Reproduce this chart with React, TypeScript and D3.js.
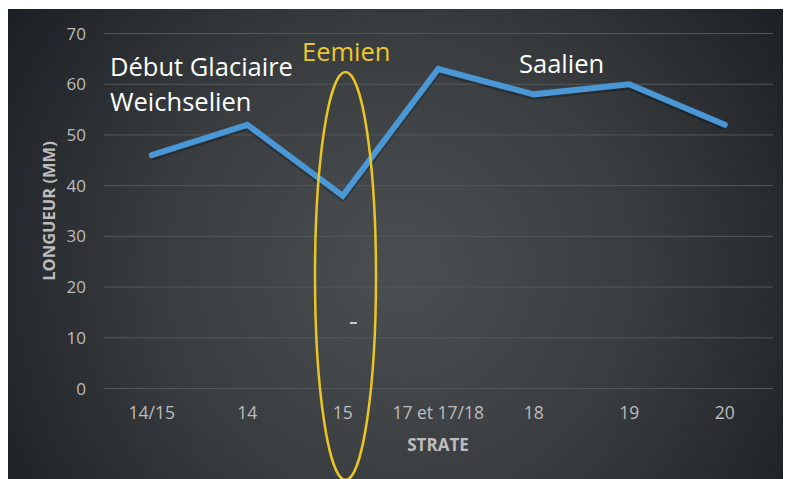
import React, { useEffect, useRef } from 'react';
import * as d3 from 'd3';

const strates = ['14/15', '14', '15', '17 et 17/18', '18', '19', '20'];
const longueur = [46, 52, 38, 63, 58, 60, 52];
const yTicks = [0, 10, 20, 30, 40, 50, 60, 70];

const App: React.FC = () => {
  const ref = useRef<SVGSVGElement | null>(null);

  useEffect(() => {
    document.body.style.margin = '0';
    if (!ref.current) return;
    const svg = d3.select(ref.current);
    svg.selectAll('*').remove();

    const W = 786;
    const H = 479;
    const font = '"Open Sans", "Segoe UI", sans-serif';

    const defs = svg.append('defs');
    const grad = defs.append('radialGradient')
      .attr('id', 'bg')
      .attr('gradientUnits', 'userSpaceOnUse')
      .attr('cx', 400).attr('cy', 270).attr('r', 470);
    grad.append('stop').attr('offset', '0%').attr('stop-color', '#4b4f52');
    grad.append('stop').attr('offset', '50%').attr('stop-color', '#393d40');
    grad.append('stop').attr('offset', '100%').attr('stop-color', '#1c1f23');

    svg.append('rect').attr('width', W).attr('height', H).attr('fill', '#ffffff');
    svg.append('rect')
      .attr('x', 8).attr('y', 9)
      .attr('width', 775).attr('height', H - 9)
      .attr('fill', 'url(#bg)');

    const x = d3.scaleBand().domain(strates).range([104, 772.5]);
    const y = d3.scaleLinear().domain([0, 70]).range([388.5, 33.5]);

    // gridlines
    svg.append('g')
      .selectAll('line')
      .data(yTicks)
      .enter()
      .append('line')
      .attr('x1', 104).attr('x2', 773)
      .attr('y1', d => y(d)).attr('y2', d => y(d))
      .attr('stroke', '#54585b')
      .attr('stroke-width', 1);

    // y labels
    svg.append('g')
      .selectAll('text')
      .data(yTicks)
      .enter()
      .append('text')
      .attr('x', 86)
      .attr('y', d => y(d) + 6)
      .attr('text-anchor', 'end')
      .attr('font-family', font)
      .attr('font-size', 17)
      .attr('fill', '#bdbdbd')
      .text(d => d);

    // x labels
    svg.append('g')
      .selectAll('text')
      .data(strates)
      .enter()
      .append('text')
      .attr('x', d => x(d)! + x.bandwidth() / 2)
      .attr('y', 419)
      .attr('text-anchor', 'middle')
      .attr('font-family', font)
      .attr('font-size', 17.5)
      .attr('fill', '#bdbdbd')
      .text(d => d);

    // axis titles
    svg.append('text')
      .attr('transform', 'translate(55,211) rotate(-90)')
      .attr('text-anchor', 'middle')
      .attr('font-family', font)
      .attr('font-weight', 'bold')
      .attr('font-size', 16.5)
      .attr('fill', '#bdbdbd')
      .text('LONGUEUR (MM)');

    svg.append('text')
      .attr('x', 438).attr('y', 451)
      .attr('text-anchor', 'middle')
      .attr('font-family', font)
      .attr('font-weight', 'bold')
      .attr('font-size', 17)
      .attr('fill', '#bdbdbd')
      .text('STRATE');

    // line
    const line = d3.line<number>()
      .x((_, i) => x(strates[i])! + x.bandwidth() / 2)
      .y(d => y(d));

    svg.append('path')
      .datum(longueur)
      .attr('d', line)
      .attr('fill', 'none')
      .attr('stroke', 'rgba(0,0,0,0.25)')
      .attr('stroke-width', 7)
      .attr('stroke-linejoin', 'round')
      .attr('transform', 'translate(0,2)');

    svg.append('path')
      .datum(longueur)
      .attr('d', line)
      .attr('fill', 'none')
      .attr('stroke', '#4a97d6')
      .attr('stroke-width', 6)
      .attr('stroke-linejoin', 'miter')
      .attr('stroke-linecap', 'round');

    // annotations
    const ann = svg.append('g').attr('font-family', font).attr('font-size', 25.5);
    ann.append('text').attr('x', 110).attr('y', 76).attr('fill', '#ffffff').text('Début Glaciaire');
    ann.append('text').attr('x', 110).attr('y', 111).attr('fill', '#ffffff').text('Weichselien');
    ann.append('text').attr('x', 519).attr('y', 73).attr('fill', '#ffffff').text('Saalien');
    ann.append('text').attr('x', 302).attr('y', 61).attr('fill', '#ecc92b').text('Eemien');

    svg.append('ellipse')
      .attr('cx', 345.5).attr('cy', 276)
      .attr('rx', 30.5).attr('ry', 204)
      .attr('fill', 'none')
      .attr('stroke', '#e9c624')
      .attr('stroke-width', 2.5);

    svg.append('line')
      .attr('x1', 350).attr('x2', 357)
      .attr('y1', 323).attr('y2', 323)
      .attr('stroke', '#c8c8c8')
      .attr('stroke-width', 2);
  }, []);

  return <svg ref={ref} width={786} height={479} style={{ display: 'block' }} />;
};

export default App;
